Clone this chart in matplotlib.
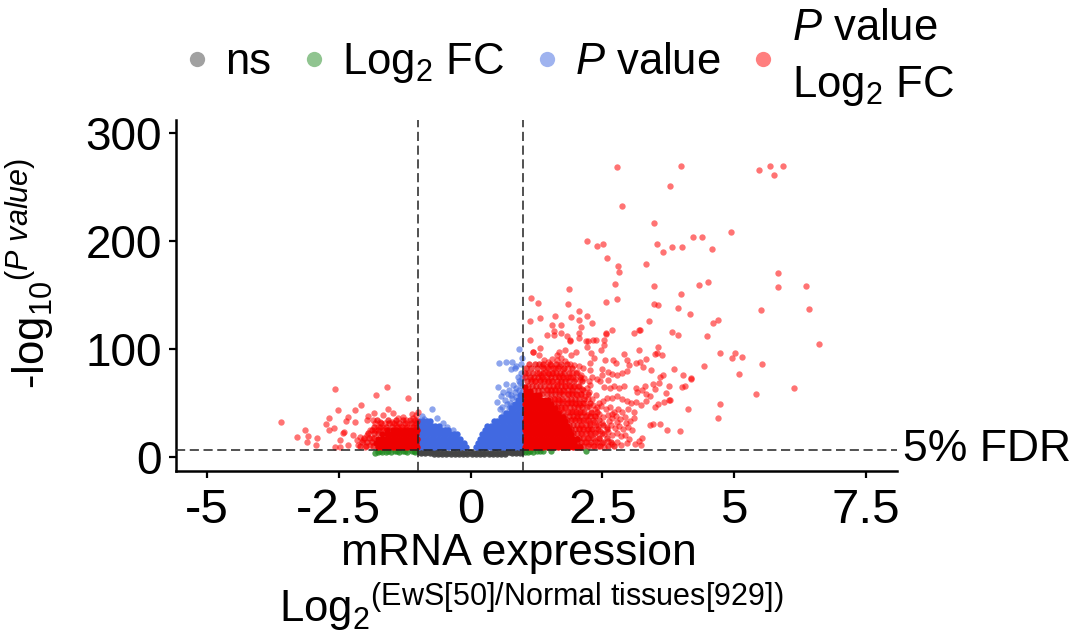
import matplotlib
matplotlib.use('Agg')
import matplotlib.pyplot as plt
from matplotlib.lines import Line2D

plt.rcParams['font.family'] = ['Liberation Sans', 'DejaVu Sans']
plt.rcParams['mathtext.fontset'] = 'custom'
plt.rcParams['mathtext.rm'] = 'Liberation Sans'
plt.rcParams['mathtext.it'] = 'Liberation Sans:italic'

x_ticks = [-5, -2.5, 0, 2.5, 5, 7.5]
x_tick_labels = ['-5', '-2.5', '0', '2.5', '5', '7.5']
y_ticks = [0, 100, 200, 300]
fc_cut = 1
p_cut = 6.5

# dense parts, read row by row (y of the row, then x of the points in it)
gray_row_y = [4.6, 3.0, 3.6, 4.2]
gray_row_x = [
    [-0.98, -0.90, -0.82, -0.74, 0.74, 0.82, 0.90, 0.98, -0.66, 0.66],
    [-0.70, -0.62, -0.54, -0.46, -0.38, -0.30, -0.22, -0.14, -0.06, 0.02, 0.10, 0.18, 0.26, 0.34, 0.42, 0.50, 0.58, 0.66],
    [-0.94, -0.86, -0.78, -0.58, -0.42, -0.26, -0.10, 0.06, 0.22, 0.38, 0.54, 0.78, 0.86, 0.94],
    [-0.74, -0.66, -0.50, -0.34, -0.18, -0.02, 0.14, 0.30, 0.46, 0.62, 0.70],
]
green_x = [-1.82, -1.75, -1.68, -1.60, -1.52, -1.44, -1.36, -1.28, -1.20, -1.12, -1.05, -1.72, -1.56, -1.40, -1.24, -1.08,
           1.03, 1.08, 1.13, 1.19, 1.25, 1.31, 1.38, 1.53, 2.19]
green_y = [4.0, 4.8, 4.5, 5.0, 4.6, 5.1, 4.7, 5.2, 4.9, 5.3, 5.0, 5.6, 5.6, 5.7, 5.7, 5.8,
           4.9, 4.4, 5.2, 5.0, 5.4, 5.1, 5.5, 5.9, 5.9]

blue_row_y = [9, 13, 17, 21, 25, 29, 33, 37, 41, 45, 49, 53, 57]
blue_row_x = [
    [-0.97, -0.90, -0.83, -0.76, -0.69, -0.62, -0.55, -0.48, -0.41, -0.34, -0.27, -0.20, -0.13, -0.09, 0.10, 0.15, 0.22, 0.29, 0.36, 0.43, 0.50, 0.57, 0.64, 0.71, 0.78, 0.85, 0.92, 0.98],
    [-0.95, -0.88, -0.81, -0.74, -0.67, -0.60, -0.53, -0.46, -0.39, -0.32, -0.25, -0.18, -0.13, 0.14, 0.20, 0.27, 0.34, 0.41, 0.48, 0.55, 0.62, 0.69, 0.76, 0.83, 0.90, 0.97],
    [-0.97, -0.90, -0.83, -0.76, -0.69, -0.62, -0.55, -0.48, -0.41, -0.34, -0.27, -0.20, 0.17, 0.24, 0.31, 0.38, 0.45, 0.52, 0.59, 0.66, 0.73, 0.80, 0.87, 0.94, 0.99],
    [-0.95, -0.88, -0.81, -0.74, -0.67, -0.60, -0.53, -0.46, -0.39, -0.32, -0.25, 0.22, 0.28, 0.35, 0.42, 0.49, 0.56, 0.63, 0.70, 0.77, 0.84, 0.91, 0.98],
    [-0.97, -0.90, -0.83, -0.76, -0.69, -0.62, -0.55, -0.48, -0.43, 0.27, 0.33, 0.40, 0.47, 0.54, 0.61, 0.68, 0.75, 0.82, 0.89, 0.96],
    [-0.95, -0.88, -0.81, -0.74, -0.67, -0.60, 0.31, 0.38, 0.45, 0.52, 0.59, 0.66, 0.73, 0.80, 0.87, 0.94, 0.99],
    [-0.97, -0.90, -0.82, -0.77, 0.45, 0.50, 0.57, 0.64, 0.71, 0.78, 0.85, 0.92, 0.98],
    [0.57, 0.63, 0.70, 0.77, 0.84, 0.91, 0.97],
    [0.68, 0.74, 0.81, 0.88, 0.95],
    [0.76, 0.83, 0.90, 0.97],
    [0.84, 0.91, 0.98],
    [0.90, 0.96],
    [0.94, 0.99],
]
blue_x = [-0.93, -0.73, -0.88, -0.64, -0.52, -0.44, -0.33, 0.92, 0.54, 0.68, 0.78, 0.95, 0.87, 0.76, 0.84, 0.97,
          0.52, 0.67, 0.81, 0.94, 0.62, 0.72, 0.84, 0.51, 0.65, 0.78, 0.87, 0.59, 0.72, 0.81, 0.98, 0.96, 0.90,
          0.70, 0.76, 0.86, 0.92, 0.58, 0.69, 0.91, 0.97, 0.55, 0.64, 0.75, 0.98]
blue_y = [38, 44, 35, 36, 31, 28, 25, 100, 86.7, 88.2, 88.2, 86, 84.2, 81.4, 82, 72.8,
          64.5, 67.6, 66.6, 68.2, 60.5, 62, 60.5, 51.2, 52.8, 54.3, 55.8, 46.6, 45, 48.1, 92, 78, 74,
          58, 57, 64, 62, 56, 49, 70, 66, 44, 41, 50, 60]

red_row_y = [9, 13, 17, 21, 25, 29, 33, 37, 41, 45, 49, 53, 57, 61, 65]
red_row_x = [
    [1.03, 1.10, 1.17, 1.24, 1.31, 1.38, 1.45, 1.52, 1.59, 1.66, 1.73, 1.80, 1.87, 1.94, 2.01, 2.08],
    [1.06, 1.13, 1.20, 1.27, 1.34, 1.41, 1.48, 1.55, 1.62, 1.69, 1.76, 1.83, 1.90, 1.97],
    [1.03, 1.10, 1.17, 1.24, 1.31, 1.38, 1.45, 1.52, 1.59, 1.66, 1.73, 1.80, 1.87, 1.94, 2.02],
    [1.06, 1.13, 1.20, 1.27, 1.34, 1.41, 1.48, 1.55, 1.62, 1.69, 1.76, 1.83, 1.90],
    [1.03, 1.10, 1.17, 1.24, 1.31, 1.38, 1.45, 1.52, 1.59, 1.66, 1.73, 1.80, 1.87],
    [1.06, 1.13, 1.20, 1.27, 1.34, 1.41, 1.48, 1.55, 1.62, 1.69, 1.76, 1.83],
    [1.03, 1.10, 1.17, 1.24, 1.31, 1.38, 1.45, 1.52, 1.59, 1.66, 1.73, 1.79],
    [1.06, 1.13, 1.20, 1.27, 1.34, 1.41, 1.48, 1.55, 1.62, 1.69, 1.75],
    [1.03, 1.10, 1.17, 1.24, 1.31, 1.38, 1.45, 1.52, 1.59, 1.65],
    [1.06, 1.13, 1.20, 1.27, 1.34, 1.41, 1.48, 1.55, 1.60],
    [1.03, 1.10, 1.17, 1.24, 1.31, 1.38, 1.45, 1.52],
    [1.06, 1.13, 1.20, 1.27, 1.34, 1.41, 1.47],
    [1.03, 1.10, 1.17, 1.24, 1.30],
    [1.05, 1.12],
    [1.03],
]
left_row_y = [9, 13, 17, 21, 25]
left_row_x = [
    [-1.76, -1.69, -1.62, -1.55, -1.48, -1.41, -1.34, -1.27, -1.20, -1.13, -1.06, -1.02],
    [-1.80, -1.73, -1.66, -1.59, -1.52, -1.45, -1.38, -1.31, -1.24, -1.17, -1.10, -1.03],
    [-1.76, -1.69, -1.62, -1.55, -1.48, -1.41, -1.34, -1.27, -1.20, -1.13, -1.06, -1.02],
    [-1.68, -1.59, -1.52, -1.45, -1.38, -1.31, -1.24, -1.17, -1.10, -1.03],
    [-1.58, -1.48, -1.41, -1.34, -1.27, -1.20, -1.13, -1.06, -1.02],
]

# semi dense fringe around the solid parts
fringe_row_y = [86, 82, 78, 74, 70, 66, 62, 58, 54, 50, 46, 42, 38, 34, 30, 26, 22, 18, 14, 10]
fringe_row_x = [
    [1.10, 1.22, 1.30, 1.38, 1.50, 1.62, 1.71, 1.82],
    [1.05, 1.14, 1.26, 1.37, 1.46, 1.56, 1.66, 1.78, 1.92],
    [1.03, 1.08, 1.18, 1.30, 1.38, 1.46, 1.54, 1.62, 1.70, 1.78, 1.86, 2.00],
    [1.04, 1.12, 1.20, 1.28, 1.36, 1.44, 1.52, 1.60, 1.68, 1.76, 1.85, 1.94, 2.08],
    [1.07, 1.15, 1.23, 1.31, 1.39, 1.47, 1.55, 1.63, 1.71, 1.79, 1.87, 1.96, 2.12],
    [1.08, 1.16, 1.24, 1.32, 1.40, 1.48, 1.56, 1.64, 1.72, 1.80, 1.88, 1.97, 2.06],
    [1.20, 1.28, 1.36, 1.44, 1.52, 1.60, 1.68, 1.76, 1.84, 1.92, 2.02, 2.14],
    [1.36, 1.44, 1.52, 1.60, 1.68, 1.76, 1.84, 1.92, 2.00, 2.10, 2.22],
    [1.50, 1.58, 1.66, 1.74, 1.82, 1.90, 1.98, 2.06, 2.16],
    [1.58, 1.66, 1.74, 1.82, 1.90, 1.98, 2.06, 2.14, 2.26],
    [1.64, 1.72, 1.80, 1.88, 1.96, 2.04, 2.12, 2.20],
    [1.68, 1.76, 1.84, 1.92, 2.00, 2.08, 2.16, 2.28, 2.40],
    [1.78, 1.86, 1.94, 2.02, 2.10, 2.18, 2.26, 2.36],
    [1.82, 1.90, 1.98, 2.06, 2.14, 2.22, 2.32, 2.44],
    [1.86, 1.94, 2.02, 2.10, 2.18, 2.26, 2.38, 2.52],
    [1.90, 1.98, 2.06, 2.14, 2.22, 2.30, 2.42, 2.58],
    [1.94, 2.02, 2.10, 2.18, 2.26, 2.36, 2.50],
    [1.98, 2.06, 2.14, 2.22, 2.32, 2.44, 2.58],
    [2.02, 2.10, 2.18, 2.28, 2.40, 2.52, 2.66],
    [2.06, 2.14, 2.22, 2.34, 2.46, 2.60, 2.72],
]
left_fringe_row_y = [34, 31, 28, 25, 22, 18, 14, 10]
left_fringe_row_x = [
    [-1.78, -1.56, -1.42, -1.28, -1.15, -1.05],
    [-1.70, -1.55, -1.45, -1.35, -1.25, -1.14, -1.04],
    [-1.84, -1.72, -1.60, -1.50, -1.40, -1.30, -1.20, -1.10, -1.03],
    [-1.88, -1.76, -1.66, -1.54],
    [-1.94, -1.84, -1.76],
    [-2.02, -1.92, -1.84],
    [-2.06, -1.96, -1.87],
    [-2.10, -1.98, -1.86],
]

# single points that can be told apart
red_points = [
    (2.78, 268.2), (3.997, 269.2), (5.476, 265.8), (5.685, 269.2), (5.748, 261.4), (5.932, 269.2), (3.788, 251), (2.87, 232),
    (3.471, 216.4), (4.932, 208.7), (4.211, 204), (4.395, 203.7), (2.213, 199.7), (2.39, 195), (2.51, 197.5), (3.54, 197.2),
    (3.83, 194.8), (4.009, 194.5), (4.585, 193), (3.655, 189.8), (2.58, 184.3), (3.326, 178.4), (2.788, 176.6), (2.814, 171),
    (5.837, 170.7), (5.824, 157.1), (2.744, 160.2), (3.471, 158), (4.332, 159.3), (4.509, 161.8), (6.356, 158.7), (1.865, 155.3),
    (3.99, 150.6), (1.137, 147.2), (1.283, 142.3), (1.846, 141.7), (2.573, 143.2), (2.776, 146), (3.484, 142), (3.547, 140.5),
    (3.933, 137.7), (6.425, 137.4), (5.514, 136.1), (4.161, 132.7), (2.061, 135.2), (1.593, 130.3), (1.903, 130), (2.206, 130.6),
    (1.308, 128.4), (1.118, 125.6), (2.061, 126.6), (2.295, 123.8), (1.536, 122.6), (1.713, 122.2), (2.086, 120.4), (3.383, 126),
    (4.597, 124.1), (4.698, 126.6), (2.681, 117.6), (1.58, 117), (1.58, 113.3), (1.713, 114.5), (1.441, 113), (1.82, 112.4),
    (2.061, 114.5), (2.061, 109.9), (2.567, 114.2), (2.56, 114.6), (3.098, 114.5), (3.206, 117.3), (3.2, 117.6), (3.813, 116.1),
    (3.933, 112.7), (4.483, 112.1), (1.125, 108), (1.884, 107.4), (1.88, 107.9), (2.181, 107.1), (2.32, 108.4), (2.383, 108.4),
    (2.232, 107.7), (2.529, 108), (2.535, 103.4), (2.213, 102.2), (2.466, 98.8), (1.321, 101), (1.188, 97), (1.18, 97.3),
    (1.302, 94.2), (1.681, 97.2), (1.631, 94.8), (1.991, 97), (1.909, 94.8), (1.795, 99.4), (2.289, 96), (2.339, 91.7),
    (2.908, 95.7), (3.193, 99.4), (3.554, 101.6), (3.497, 95.1), (3.541, 96.6), (3.636, 94.5), (4.724, 96.6), (5.015, 96),
    (4.964, 91.4), (5.147, 92.3), (6.615, 104.3), (5.527, 85.8), (4.42, 84.3), (5.097, 77.2), (6.128, 64.2), (5.42, 58.7),
    (4.736, 49.1), (4.686, 36.1), (4.129, 44.2), (3.977, 24.4), (3.731, 25), (3.591, 30.9), (3.452, 30.3), (3.402, 29.7),
    (3.25, 17.9), (3.231, 11.4), (3.187, 14.5), (4.18, 72.9), (4.175, 72.5), (4.028, 76), (3.857, 81), (3.642, 76), (3.592, 74.4),
    (3.421, 80.3), (4.066, 66), (4.015, 64.8), (3.769, 65.8), (3.579, 68.2), (3.452, 67.6), (3.497, 63), (3.775, 52.8), (3.77, 52.3),
    (3.705, 59), (3.661, 50.6), (3.56, 48.8), (3.497, 46.6), (3.332, 90.4), (3.218, 88.3), (3.142, 86.8), (3.269, 83.7),
    (2.972, 89.8), (3.01, 85), (2.972, 80), (2.554, 89.5), (2.7, 90.1), (2.75, 87.4), (2.263, 87.4), (2.27, 80.6), (2.485, 81.2), (2.611, 79),
    # cloud between x 1 and 3.4
    (1.39, 90), (1.47, 88), (1.55, 91), (1.63, 90), (1.72, 92), (1.80, 89), (1.88, 86), (1.97, 85), (2.05, 84), (2.13, 82),
    (1.35, 84), (1.44, 83), (1.52, 85), (1.60, 82), (1.68, 84), (1.76, 81), (1.84, 82), (1.93, 78), (2.02, 79), (2.10, 76),
    (1.25, 78), (1.33, 76), (1.41, 79), (1.49, 77), (1.57, 78), (1.65, 75), (1.73, 76), (1.81, 73), (1.89, 74), (1.98, 72),
    (2.07, 71), (2.15, 73), (2.24, 70), (2.31, 74), (2.40, 72), (2.49, 76), (2.60, 71), (2.69, 77), (2.78, 76), (2.88, 78),
    (1.15, 72), (1.23, 70), (1.31, 71), (1.39, 72), (1.47, 69), (1.55, 70), (1.63, 68), (1.71, 69), (1.79, 66), (1.87, 67),
    (1.95, 65), (2.03, 66), (2.11, 63), (2.20, 64), (2.27, 67), (2.46, 70), (2.53, 65), (2.65, 64), (2.72, 66), (2.81, 64), (2.91, 66),
    (1.45, 63), (1.53, 62), (1.61, 63), (1.69, 60), (1.77, 61), (1.85, 58), (1.93, 59), (2.01, 57), (2.09, 58), (2.17, 56),
    (2.25, 60), (2.30, 54), (2.38, 57), (2.52, 52), (2.59, 55), (2.68, 55), (2.78, 56), (2.88, 54), (2.96, 52), (3.14, 64),
    (3.16, 60), (3.25, 62), (3.32, 58), (3.40, 56), (3.30, 66), (3.05, 50), (3.14, 51), (3.24, 48), (3.33, 52),
    (1.60, 54), (1.68, 53), (1.76, 52), (1.84, 50), (1.92, 51), (2.00, 49), (2.08, 48), (2.16, 50), (2.24, 47), (2.32, 48), (2.40, 46),
    (2.48, 47), (2.56, 44), (2.64, 46), (2.72, 42), (2.80, 44), (2.88, 42), (2.98, 44), (3.10, 42), (2.22, 54), (2.44, 50),
    (1.72, 44), (1.80, 45), (1.88, 42), (1.96, 43), (2.04, 41), (2.12, 42), (2.20, 39), (2.28, 41), (2.36, 38), (2.44, 40), (2.52, 37),
    (2.60, 39), (2.68, 36), (2.76, 38), (2.84, 35), (2.92, 37), (3.02, 33), (3.10, 36), (2.68, 40), (2.36, 44),
    (1.94, 35), (2.02, 36), (2.10, 33), (2.18, 34), (2.26, 31), (2.34, 32), (2.42, 29), (2.50, 31), (2.58, 28), (2.66, 30), (2.74, 27),
    (2.82, 29), (2.90, 26), (2.98, 28), (3.06, 25), (2.62, 33), (2.78, 32), (2.95, 31),
    (2.05, 27), (2.13, 28), (2.21, 25), (2.29, 26), (2.37, 23), (2.45, 24), (2.53, 21), (2.61, 23), (2.69, 20), (2.77, 22), (2.85, 19),
    (2.93, 20), (3.01, 17), (2.28, 20), (2.44, 18), (2.12, 21), (2.20, 18), (2.36, 15), (2.50, 13), (2.60, 15), (2.68, 12), (2.78, 14),
    (2.86, 11), (2.96, 13), (2.15, 14), (2.24, 12), (2.33, 10), (2.42, 10), (2.53, 9), (3.12, 12),
    # left side
    (-2.575, 62.6), (-1.59, 64.8), (-1.8, 57), (-1.19, 54.3), (-2.08, 48), (-2.19, 43.2), (-2.52, 43.8), (-1.56, 44), (-1.83, 41),
    (-1.94, 38), (-1.97, 34), (-1.86, 34), (-1.66, 38.9), (-1.47, 40.4), (-1.28, 37.3), (-1.12, 39.8), (-1, 42), (-1.03, 38.9),
    (-2.68, 36.4), (-2.32, 36.7), (-2.37, 33.3), (-2.2, 32.7), (-3.59, 32.7), (-2.75, 30.2), (-2.6, 26.5), (-2.68, 24.7), (-3.14, 25),
    (-3.08, 19.4), (-3.3, 18.5), (-2.92, 17.6), (-3.11, 13.9), (-2.93, 10.8), (-2.42, 22.5), (-2.41, 22.8), (-2.23, 20.3), (-2.48, 15.7),
    (-2.57, 9.5), (-2.48, 8.9), (-2.32, 11), (-2.16, 15.7), (-2.1, 18.8), (-2.13, 11), (-2.04, 15.7), (-1.97, 20.3), (-1.91, 25),
    (-1.82, 25), (-2.01, 9.5), (-1.91, 11), (-1.88, 17.3), (-1.82, 31), (-1.72, 32.7), (-1.63, 31), (-1.5, 32.7), (-1.37, 35.8),
    (-1.22, 34.2), (-1.09, 35.8), (-1.75, 28), (-1.66, 27), (-1.42, 30), (-1.32, 29), (-1.2, 30), (-1.08, 30), (-1.02, 33),
]


def rows_to_xy(row_y, row_x):
    xs, ys = [], []
    for y, row in zip(row_y, row_x):
        xs += row
        ys += [y] * len(row)
    return xs, ys


fig = plt.figure(figsize=(10.73, 6.33), dpi=100)
ax = fig.add_axes([176 / 1073, 1 - 471 / 633, (897 - 176) / 1073, (471 - 120) / 633])
size = 21

gx, gy = rows_to_xy(gray_row_y, gray_row_x)
ax.scatter(gx, gy, s=size, c='#444444', lw=0, alpha=0.95, zorder=2)
ax.scatter(green_x, green_y, s=size, c='#228B22', lw=0, alpha=0.8, zorder=2.1)
bx, by = rows_to_xy(blue_row_y, blue_row_x)
ax.scatter(bx, by, s=size, c='royalblue', lw=0, alpha=1, zorder=2.2)
ax.scatter(blue_x, blue_y, s=size, c='royalblue', lw=0, alpha=0.6, zorder=2.3)
rx, ry = rows_to_xy(red_row_y, red_row_x)
lx, ly = rows_to_xy(left_row_y, left_row_x)
ax.scatter(rx + lx, ry + ly, s=size, c='#ee0000', lw=0, alpha=1, zorder=2.4)
fx, fy = rows_to_xy(fringe_row_y, fringe_row_x)
fx2, fy2 = rows_to_xy(left_fringe_row_y, left_fringe_row_x)
ax.scatter(fx + fx2, fy + fy2, s=size, c='#ee0000', lw=0, alpha=0.7, zorder=2.45)
ax.scatter([p[0] for p in red_points], [p[1] for p in red_points], s=size, c='red', lw=0, alpha=0.55, zorder=2.5)

ax.axvline(-fc_cut, color='#222222', lw=1.1, dashes=(6, 3), zorder=3)
ax.axvline(fc_cut, color='#222222', lw=1.1, dashes=(6, 3), zorder=3)
ax.axhline(p_cut, color='#222222', lw=1.1, dashes=(6, 3), zorder=3)

ax.set_xlim(-5.59, 8.09)
ax.set_ylim(-13, 312)
ax.set_xticks(x_ticks)
ax.set_xticklabels(x_tick_labels)
ax.set_yticks(y_ticks)
ax.tick_params(width=1.6, length=5)
ax.tick_params(axis='x', labelsize=35.5, pad=7)
ax.tick_params(axis='y', labelsize=33, pad=5)
ax.spines['top'].set_visible(False)
ax.spines['right'].set_visible(False)
ax.spines['left'].set_linewidth(1.8)
ax.spines['bottom'].set_linewidth(1.8)

ax.text(1.008, p_cut, '5% FDR', transform=ax.get_yaxis_transform(), fontsize=32, va='center', ha='left', clip_on=False)

fig.text(519 / 1073, 1 - 553 / 633, 'mRNA expression', fontsize=32, ha='center', va='center')
fig.text(531 / 1073, 1 - 607 / 633, r'Log$_{2}$$^{\mathrm{(EwS[50]/Normal\ tissues[929])}}$', fontsize=31.4, ha='center', va='center')
fig.text(30 / 1073, 1 - 273 / 633, r'-log$_{10}$$^{(\mathit{P\ value})}$', fontsize=31.4, rotation=90, ha='center', va='center')

handles = [
    Line2D([], [], ls='', marker='o', ms=11, color='#444444', alpha=0.5, mew=0),
    Line2D([], [], ls='', marker='o', ms=11, color='#228B22', alpha=0.5, mew=0),
    Line2D([], [], ls='', marker='o', ms=11, color='royalblue', alpha=0.5, mew=0),
    Line2D([], [], ls='', marker='o', ms=11, color='red', alpha=0.5, mew=0),
]
labels = ['ns', r'Log$_{2}$ FC', r'$\mathit{P}$ value', '$\\mathit{P}$ value\nLog$_{2}$ FC']
leg = fig.legend(handles, labels, ncol=4, frameon=False, fontsize=31.4, loc='center', bbox_to_anchor=(561 / 1073, 1 - 58 / 633),
                 columnspacing=0.325, handletextpad=0.0, handlelength=1.3, labelspacing=0.1)
leg.get_texts()[3].set_linespacing(1.45)

fig.savefig('out.png', dpi=100)
